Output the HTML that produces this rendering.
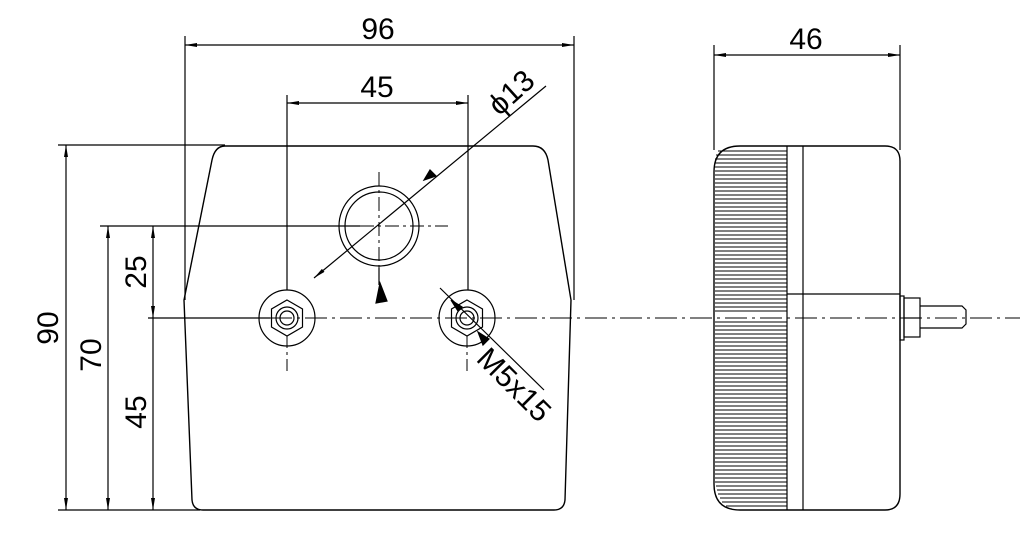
<!DOCTYPE html>
<html><head><style>html,body{margin:0;padding:0;background:#fff;}svg{display:block}</style></head>
<body>
<svg width="1028" height="546" viewBox="0 0 1028 546" xmlns="http://www.w3.org/2000/svg">
<defs>
<marker id="a" viewBox="0 0 12 4" refX="12" refY="2" markerWidth="12" markerHeight="4" orient="auto-start-reverse" markerUnits="userSpaceOnUse"><path d="M0,0 L12,2 L0,4 z" fill="#000"/></marker>
</defs>
<g fill="none" stroke="#000" stroke-width="1.2" font-family="Liberation Sans, sans-serif">
<path d="M225,146 L533,146 Q545,146 548,160 L571,300 L565,500 Q564,510 554,510 L203,510 Q193,510 192,500 L184,300 L212,160 Q215,146 225,146 Z" stroke-width="1.4"/>
<line x1="185" y1="36" x2="185" y2="300"/>
<line x1="574" y1="36" x2="574" y2="300"/>
<line x1="287" y1="95" x2="287" y2="290"/>
<line x1="468" y1="95" x2="468" y2="290"/>
<line x1="58" y1="145" x2="225" y2="145"/>
<line x1="100" y1="226" x2="360" y2="226"/>
<line x1="58" y1="510" x2="200" y2="510"/>
<line x1="714" y1="45" x2="714" y2="150"/>
<line x1="900" y1="45" x2="900" y2="150"/>
<line x1="185" y1="45" x2="574" y2="45" marker-start="url(#a)" marker-end="url(#a)"/>
<line x1="287" y1="103" x2="468" y2="103" marker-start="url(#a)" marker-end="url(#a)"/>
<line x1="714" y1="55" x2="900" y2="55" marker-start="url(#a)" marker-end="url(#a)"/>
<line x1="66" y1="145" x2="66" y2="510" marker-start="url(#a)" marker-end="url(#a)"/>
<line x1="108" y1="226" x2="108" y2="510" marker-start="url(#a)" marker-end="url(#a)"/>
<line x1="153" y1="226" x2="153" y2="318" marker-start="url(#a)" marker-end="url(#a)"/>
<line x1="153" y1="318" x2="153" y2="510" marker-end="url(#a)"/>
<line x1="148" y1="318" x2="270" y2="318"/>
<line x1="270" y1="318" x2="1020" y2="318" stroke-dasharray="22,5,3,5" stroke-width="1"/>
<line x1="379" y1="172" x2="379" y2="268" stroke-dasharray="14,4,3,4" stroke-width="1"/>
<line x1="360" y1="226" x2="448" y2="226" stroke-dasharray="14,4,3,4" stroke-width="1"/>
<line x1="379" y1="268" x2="379" y2="285"/>
<path d="M380,283 L376,303 L387,301 Z" fill="#000"/>
<circle cx="379" cy="226" r="40"/>
<circle cx="379" cy="226" r="34"/>
<line x1="314" y1="278" x2="546" y2="86" marker-start="url(#a)"/>
<path d="M424,180 L430,170 L436,176 Z" fill="#000"/>
<g>
<circle cx="287" cy="318" r="28"/>
<polygon points="287,300 302.5,309 302.5,327 287,336 271.5,327 271.5,309"/>
<circle cx="287" cy="318" r="11"/><circle cx="287" cy="318" r="7"/>
<line x1="287" y1="336" x2="287" y2="375" stroke-dasharray="12,4,3,4" stroke-width="1"/>
</g>
<g>
<circle cx="467" cy="318" r="28"/>
<polygon points="467,300 482.5,309 482.5,327 467,336 451.5,327 451.5,309"/>
<circle cx="467" cy="318" r="11"/><circle cx="467" cy="318" r="7"/>
<line x1="467" y1="336" x2="467" y2="375" stroke-dasharray="12,4,3,4" stroke-width="1"/>
</g>
<line x1="440" y1="288" x2="544" y2="390"/>
<path d="M451,300 L462,307 L458,311 Z M478,332 L489,339 L483,345 Z" fill="#000"/>
<path d="M740,146 L885,146 Q900,146 900,161 L900,494 Q900,510 885,510 L740,510 Q714,510 714,484 L714,172 Q714,146 740,146 Z" stroke-width="1.4"/>
<line x1="787" y1="146" x2="787" y2="510"/>
<line x1="803" y1="146" x2="803" y2="510"/>
<line x1="787" y1="294" x2="900" y2="294"/>
<rect x="900" y="296" width="4" height="44"/>
<rect x="904" y="298" width="16" height="39"/>
<line x1="904" y1="318" x2="920" y2="318"/>
<path d="M920,306 L962,306 L966,310 L966,324 L962,328 L920,328"/>
</g>
<g stroke="#000" stroke-width="1">
<path d="M718,151 H787 M716,155 H787 M715,159 H787 M715,163 H787 M715,167 H787 M715,171 H787 M715,175 H787 M715,179 H787 M715,183 H787 M715,187 H787 M715,191 H787 M715,195 H787 M715,199 H787 M715,203 H787 M715,207 H787 M715,211 H787 M715,215 H787 M715,219 H787 M715,223 H787 M715,227 H787 M715,231 H787 M715,235 H787 M715,239 H787 M715,243 H787 M715,247 H787 M715,251 H787 M715,255 H787 M715,259 H787 M715,263 H787 M715,267 H787 M715,271 H787 M715,275 H787 M715,279 H787 M715,283 H787 M715,287 H787 M715,291 H787 M715,295 H787 M715,299 H787 M715,303 H787 M715,307 H787 M715,311 H787 M715,322 H787 M715,326 H787 M715,330 H787 M715,334 H787 M715,338 H787 M715,342 H787 M715,346 H787 M715,350 H787 M715,354 H787 M715,358 H787 M715,362 H787 M715,366 H787 M715,370 H787 M715,374 H787 M715,378 H787 M715,382 H787 M715,386 H787 M715,390 H787 M715,394 H787 M715,398 H787 M715,402 H787 M715,406 H787 M715,410 H787 M715,414 H787 M715,418 H787 M715,422 H787 M715,426 H787 M715,430 H787 M715,434 H787 M715,438 H787 M715,442 H787 M715,446 H787 M715,450 H787 M715,454 H787 M715,458 H787 M715,462 H787 M715,466 H787 M715,470 H787 M715,474 H787 M715,478 H787 M715,482 H787 M716,486 H787 M717,490 H787 M718,494 H787 M720,498 H787 M722,502 H787 M726,506 H787"/>
</g>
<g font-family="Liberation Sans, sans-serif" font-size="30" fill="#000">
<text x="378" y="39" text-anchor="middle">96</text>
<text x="377" y="97" text-anchor="middle">45</text>
<text x="806" y="49" text-anchor="middle">46</text>
<text transform="translate(58,328) rotate(-90)" text-anchor="middle">90</text>
<text transform="translate(101,355) rotate(-90)" text-anchor="middle">70</text>
<text transform="translate(146,272) rotate(-90)" text-anchor="middle">25</text>
<text transform="translate(146,412) rotate(-90)" text-anchor="middle">45</text>
<text transform="translate(518,100) rotate(-42)" text-anchor="middle">ϕ13</text>
<text transform="translate(507,392) rotate(45)" text-anchor="middle">M5x15</text>
</g>
</svg>
</body></html>
